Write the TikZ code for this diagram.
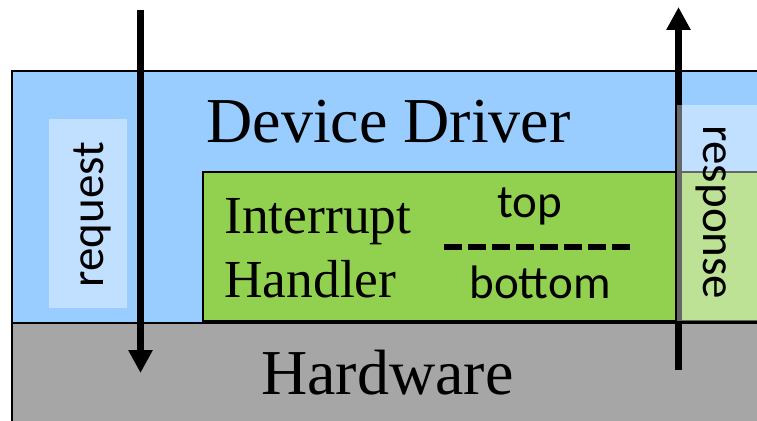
\documentclass[tikz,border=0pt]{standalone}
\usepackage{fontspec}
\setmainfont{Liberation Serif}
\newfontfamily\labelsans{Carlito}
\usetikzlibrary{arrows.meta}
\definecolor{drvblue}{HTML}{99CCFF}
\definecolor{irqgreen}{HTML}{92D050}
\definecolor{hwgray}{HTML}{A6A6A6}

\begin{document}
\begin{tikzpicture}[x=1pt,y=-1pt,
  layer/.style={draw=black, line width=2.3pt},
  veil/.style={fill=white, fill opacity=0.4},
  flow/.style={line width=7pt, -{Triangle[length=23pt,width=23pt]}},
  bigserif/.style={font=\fontsize{64}{64}\selectfont, inner sep=0pt, anchor=base},
  midserif/.style={font=\fontsize{53.5}{53.5}\selectfont, inner sep=0pt, anchor=base west},
  sanslabel/.style={font=\labelsans\fontsize{47}{47}\selectfont, inner sep=0pt, anchor=base},
  splitline/.style={line width=6pt, dash pattern=on 18pt off 6pt}
]
\useasboundingbox (0,0) rectangle (757,420);
\clip (0,0) rectangle (757,420);

% layers of the stack
\draw[layer, fill=drvblue] (12,71) rectangle (800,323);
\draw[layer, fill=hwgray] (12,323) rectangle (800,460);
\draw[layer, fill=irqgreen] (203,172) rectangle (800,321);

% request goes down, response comes back up
\coordinate (reqtop) at (140.5,10.5);
\coordinate (reqend) at (140.5,373);
\coordinate (resbot) at (678.5,370);
\coordinate (restop) at (678.5,7);
\draw[flow] (reqtop) -- (reqend);
\draw[flow] (resbot) -- (restop);

% translucent label panels
\fill[veil] (49,119) rectangle (127,308);
\fill[veil] (677,105) rectangle (800,321);

% texts
\node[bigserif] (driver) at (388.5,142) {Device Driver};
\node[bigserif] (hw) at (387.5,394) {Hardware};
\node[midserif] (irq1) at (224,233) {Interrupt};
\node[midserif] (irq2) at (224,297) {Handler};
\node[sanslabel] (tophalf) at (530,217) {top};
\node[sanslabel] (bothalf) at (540,298) {bottom};
\coordinate (splitL) at (444,247);
\coordinate (splitR) at (632,247);
\draw[splitline] (splitL) -- (splitR);
\node[sanslabel, rotate=90] (req) at (103,214.5) {request};
\node[sanslabel, rotate=-90] (res) at (703,212.5) {response};
\end{tikzpicture}
\end{document}
